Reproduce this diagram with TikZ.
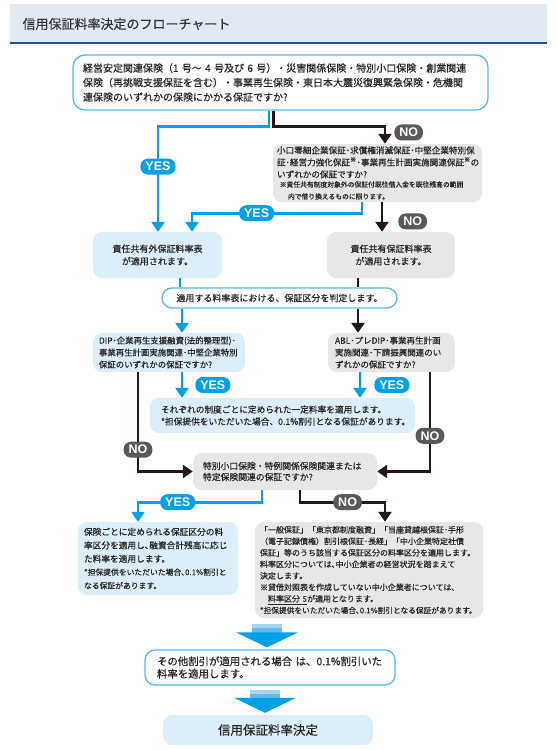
\documentclass[tikz,border=0pt]{standalone}
\usepackage{fontspec}
\setmainfont{Noto Sans CJK JP}[FakeBold=0.45]
\newfontfamily\yesfont{Liberation Sans}
\usetikzlibrary{arrows.meta, positioning}
\definecolor{flowblue}{RGB}{0,160,230}
\definecolor{paleblue}{RGB}{220,238,250}
\definecolor{palegray}{RGB}{231,231,231}
\definecolor{flowblack}{RGB}{35,24,21}
\definecolor{nogray}{RGB}{90,88,88}
\definecolor{lineblue}{RGB}{90,185,232}
\definecolor{titlebg}{RGB}{225,233,243}
\definecolor{titleline}{RGB}{28,85,140}
\definecolor{stemlight}{RGB}{165,215,243}
\definecolor{stemmid}{RGB}{100,188,236}
\newcommand\setfs[2]{\fontsize{#1}{#2}\selectfont}

\tikzset{
  flowbox/.style={rounded corners=9pt, inner ysep=0pt, align=left, text=black!85},
  bluebox/.style={flowbox, fill=paleblue},
  graybox/.style={flowbox, fill=palegray},
  whitebox/.style={flowbox, draw=lineblue, line width=1.3pt, fill=white},
  yeslabel/.style={fill=flowblue, text=white, rounded corners=7.5pt, inner xsep=5pt, inner ysep=1.5pt, minimum height=16pt, font=\yesfont\bfseries\setfs{12.5}{12.5}},
  nolabel/.style={yeslabel, fill=nogray},
  blueflow/.style={draw=flowblue, line width=2.6pt},
  blackflow/.style={draw=flowblack, line width=2.6pt},
  flowtip/.style={-{Triangle[width=13pt,length=10pt]}}
}

\begin{document}
\begin{tikzpicture}[x=1pt, y=-1pt]
\useasboundingbox (0,0) rectangle (557,750);

%---------TITLE-----------%
\fill[titlebg] (10,4) rectangle (547,42);
\draw[titleline, line width=2.5pt] (10,43) -- (547,43);
\node[anchor=west, text=black!80, font=\setfs{13}{13}] (title) at (19,24) {信用保証料率決定のフローチャート};

%---------BOXES-----------%
\node[whitebox, rounded corners=12pt, minimum width=415pt, minimum height=55pt, text width=395pt, inner xsep=10pt, font=\setfs{10}{14.5}] (q1) at (280.5,82.5)
{経営安定関連保険（1~号～~4~号及び~6~号）・災害関係保険・特別小口保険・創業関連\\
保険（再挑戦支援保証を含む）・事業再生保険・東日本大震災復興緊急保険・危機関\\
連保険のいずれかの保険にかかる保証ですか?};

\node[graybox, minimum width=209pt, minimum height=58pt, text width=201pt, inner xsep=4pt, font=\setfs{8.6}{12}] (q2) at (377.5,173)
{小口零細企業保証･求償権消滅保証･中堅企業特別保\\
証･経営力強化保証\textsuperscript{※}･事業再生計画実施関連保証\textsuperscript{※}の\\
いずれかの保証ですか?\\[1pt]
{\setfs{6.8}{8.5}\hspace*{0.4em}※責任共有制度対象外の保証付既往借入金を既往残高の範囲\\
\hspace*{1.6em}内で借り換えるものに限ります。}};

\node[bluebox, align=center, minimum width=129pt, minimum height=46pt, font=\setfs{9}{12.5}] (q3) at (157.5,255)
{責任共有外保証料率表\\が適用されます。};
\node[graybox, align=center, minimum width=128pt, minimum height=46pt, font=\setfs{9}{12.5}] (q4) at (391,255)
{責任共有保証料率表\\が適用されます。};

\node[whitebox, rounded corners=10pt, align=center, minimum width=235pt, minimum height=20pt, font=\setfs{9}{9}] (q5) at (279.5,298)
{適用する料率表における、保証区分を判定します。};

\node[bluebox, minimum width=152pt, minimum height=39pt, text width=140pt, inner xsep=6pt, font=\setfs{8.4}{12}] (q6) at (169,352.5)
{DIP･企業再生支援融資(法的整理型)･\\
事業再生計画実施関連･中堅企業特別\\
保証のいずれかの保証ですか?};
\node[graybox, minimum width=127pt, minimum height=39pt, text width=113pt, inner xsep=7pt, font=\setfs{8.5}{12}] (q7) at (391.5,352.5)
{ABL･プレDIP･事業再生計画\\
実施関連･下請振興関連のい\\
ずれかの保証ですか?};

\node[bluebox, minimum width=265pt, minimum height=35pt, text width=243pt, inner xsep=11pt, font=\setfs{8.7}{12}] (q8) at (282.5,415.5)
{それぞれの制度ごとに定められた一定料率を適用します。\\{}
*担保提供をいただいた場合、0.1\%割引となる保証があります。};

\node[graybox, minimum width=184pt, minimum height=37pt, text width=164pt, inner xsep=10pt, font=\setfs{8.8}{11}] (q9) at (285,471.5)
{特別小口保険・特例関係保険関連または\\
特定保険関連の保証ですか?};

\node[bluebox, minimum width=160pt, minimum height=73pt, text width=148pt, inner xsep=6pt, font=\setfs{8.7}{13.5}] (q10) at (158,558.5)
{保険ごとに定められる保証区分の料\\
率区分を適用し､融資合計残高に応じ\\
た料率を適用します。\\[1pt]
{\setfs{7.8}{12}*担保提供をいただいた場合､0.1\%割引と\\
なる保証があります。}};

\node[graybox, minimum width=228pt, minimum height=96pt, text width=218pt, inner xsep=5pt, font=\setfs{8}{11.5}] (q11) at (369,570)
{「一般保証」「東京都制度融資」「当座貸越根保証･手形\\
（電子記録債権）割引根保証･長経」「中小企業特定社債\\
保証」等のうち該当する保証区分の料率区分を適用します。\\
料率区分については､中小企業者の経営状況を踏まえて\\
決定します。\\
※貸借対照表を作成していない中小企業者については､\\
\hspace*{1em}\underline{料率区分~5}が適用となります。\\{}
{\setfs{7.7}{11.5}*担保提供をいただいた場合､0.1\%割引となる保証があります。}};

\node[whitebox, rounded corners=10pt, minimum width=250pt, minimum height=35pt, text width=226pt, inner xsep=12pt, font=\setfs{10.4}{12.5}] (q12) at (270,667.5)
{その他割引が適用される場合~は、0.1\%割引いた\\
料率を適用します。};

\node[bluebox, align=center, minimum width=210pt, minimum height=30pt, font=\setfs{12.5}{12.5}] (q13) at (268,730)
{信用保証料率決定};

%---------CONNECTORS-----------%
\draw[blueflow, flowtip] ([xshift=-11.5pt]q1.south) -- ++(0,16) -| ([xshift=0.5pt]q3.north)
  node[yeslabel, pos=0.69] {YES};
\draw[blackflow, flowtip] ([xshift=-7pt]q1.south) -- ++(0,16) -| ([xshift=7.5pt]q2.north)
  node[nolabel, pos=0.67, right=8pt] {NO};

\draw[blueflow, flowtip] ([xshift=-15.5pt]q2.south) -- ++(0,11) -| ([xshift=34.5pt]q3.north)
  node[yeslabel, pos=0.31] {YES};
\draw[blackflow, flowtip] ([xshift=4.5pt]q2.south) -- ([xshift=4.5pt]q2.south |- q4.north)
  node[nolabel, pos=0.65, right=15pt] {NO};

\draw[blueflow] ([xshift=22.5pt]q3.south) -- ([xshift=22.5pt]q3.south |- q5.north);
\draw[blackflow] ([xshift=-33pt]q4.south) -- ([xshift=-33pt]q4.south |- q5.north);

\draw[blueflow, flowtip] ([xshift=13pt]q6.north |- q5.south) -- ([xshift=13pt]q6.north);
\draw[blackflow, flowtip] ([xshift=-33.5pt]q7.north |- q5.south) -- ([xshift=-33.5pt]q7.north);

\draw[blueflow, flowtip] ([xshift=13pt]q6.south) -- ([xshift=13pt]q6.south |- q8.north)
  node[yeslabel, pos=0.5, right=12pt] {YES};
\draw[blueflow, flowtip] ([xshift=-31.5pt]q7.south) -- ([xshift=-31.5pt]q7.south |- q8.north)
  node[yeslabel, pos=0.5, right=13pt] {YES};

\draw[blackflow, flowtip] ([xshift=-31pt]q6.south) |- (q9.west)
  node[nolabel, pos=0.39] {NO};
\draw[blackflow, flowtip] ([xshift=38.5pt]q7.south) |- (q9.east)
  node[nolabel, pos=0.32] {NO};

\draw[blueflow, flowtip] ([xshift=-23pt]q9.south) -- ++(0,12) -| ([xshift=-20pt]q10.north)
  node[yeslabel, pos=0.34] {YES};
\draw[blackflow, flowtip] ([xshift=15pt]q9.south) -- ++(0,12) -| ([xshift=16pt]q11.north)
  node[nolabel, pos=0.28] {NO};

%---------BIG ARROWS-----------%
\foreach \t in {q12,q13}{
  \fill[stemlight] ([xshift=-18pt,yshift=25pt]\t.north) rectangle ([xshift=12pt,yshift=21pt]\t.north);
  \fill[stemmid] ([xshift=-18pt,yshift=21pt]\t.north) rectangle ([xshift=12pt,yshift=16pt]\t.north);
  \fill[flowblue] ([xshift=-34pt,yshift=17pt]\t.north) -- ([xshift=28pt,yshift=17pt]\t.north) -- ([xshift=-3pt,yshift=2pt]\t.north) -- cycle;
};

\end{tikzpicture}
\end{document}
